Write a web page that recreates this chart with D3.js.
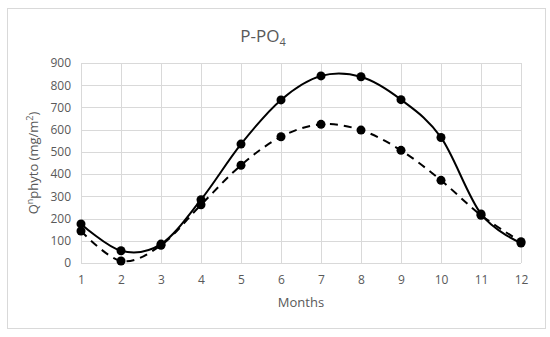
<!DOCTYPE html>
<html>
<head>
<meta charset="utf-8">
<script src="https://cdn.jsdelivr.net/npm/d3@7"></script>
<style>
  body { margin: 0; background: #fff; }
  text { font-family: "Open Sans", "Noto Sans", sans-serif; fill: #595959; }
</style>
</head>
<body>
<div id="chart"></div>
<script>
// data
var months = [1, 2, 3, 4, 5, 6, 7, 8, 9, 10, 11, 12];
var solidVals = [176, 55, 85, 285, 535, 734, 842, 838, 735, 565, 221, 90];
var dashedVals = [144, 9, 80, 262, 440, 568, 624, 598, 507, 372, 215, 96];
var yTicks = [0, 100, 200, 300, 400, 500, 600, 700, 800, 900];

var W = 550, H = 337;
var margin = {top: 63, right: 29, bottom: 74, left: 81},
    width = W - margin.left - margin.right,
    height = H - margin.top - margin.bottom;

var root = d3.select("#chart")
  .append("svg")
    .attr("width", W)
    .attr("height", H);

// outer chart border
root.append("rect")
  .attr("x", 7.5).attr("y", 8.5)
  .attr("width", 538).attr("height", 320)
  .attr("fill", "#fff")
  .attr("stroke", "#d9d9d9");

var svg = root.append("g")
  .attr("transform", "translate(" + margin.left + "," + margin.top + ")");

var x = d3.scaleLinear().domain([1, 12]).range([0, width]);
var y = d3.scaleLinear().domain([0, 900]).range([height, 0]);

// gridlines
svg.append("g")
  .selectAll("line.h")
  .data(yTicks)
  .enter().append("line")
    .attr("x1", 0).attr("x2", width)
    .attr("y1", function(d) { return Math.round(y(d)) + 0.5; })
    .attr("y2", function(d) { return Math.round(y(d)) + 0.5; })
    .attr("stroke", "#d9d9d9");

svg.append("g")
  .selectAll("line.v")
  .data(months)
  .enter().append("line")
    .attr("x1", function(d) { return Math.round(x(d)) + 0.5; })
    .attr("x2", function(d) { return Math.round(x(d)) + 0.5; })
    .attr("y1", 0).attr("y2", height)
    .attr("stroke", "#d9d9d9");

// axes (labels only)
var xAxis = svg.append("g")
  .attr("transform", "translate(0," + height + ")")
  .call(d3.axisBottom(x).tickValues(months).tickSize(0).tickPadding(12));
xAxis.select(".domain").remove();
xAxis.selectAll("text").style("font-size", "12px").attr("fill", "#595959");

var yAxis = svg.append("g")
  .call(d3.axisLeft(y).tickValues(yTicks).tickSize(0).tickPadding(10));
yAxis.select(".domain").remove();
yAxis.selectAll("text").style("font-size", "12px").attr("fill", "#595959");

// lines
var line = d3.line()
  .x(function(d, i) { return x(months[i]); })
  .y(function(d) { return y(d); })
  .curve(d3.curveCatmullRom.alpha(0));

svg.append("path")
  .datum(dashedVals)
  .attr("d", line)
  .attr("fill", "none")
  .attr("stroke", "#000")
  .attr("stroke-width", 2)
  .attr("stroke-dasharray", "8,6");

svg.append("path")
  .datum(solidVals)
  .attr("d", line)
  .attr("fill", "none")
  .attr("stroke", "#000")
  .attr("stroke-width", 2);

[dashedVals, solidVals].forEach(function(vals) {
  svg.append("g")
    .selectAll("circle")
    .data(vals)
    .enter().append("circle")
      .attr("cx", function(d, i) { return x(months[i]); })
      .attr("cy", function(d) { return y(d); })
      .attr("r", 4.5)
      .attr("fill", "#000");
});

// title
var title = root.append("text")
  .attr("x", 263)
  .attr("y", 42)
  .attr("text-anchor", "middle")
  .style("font-size", "17px");
title.append("tspan").text("P-PO");
title.append("tspan").attr("dy", 4).style("font-size", "11px").text("4");

// axis titles
root.append("text")
  .attr("x", margin.left + width / 2)
  .attr("y", 307)
  .attr("text-anchor", "middle")
  .style("font-size", "13px")
  .text("Months");

var yl = root.append("text")
  .attr("transform", "translate(38," + (margin.top + height / 2) + ") rotate(-90)")
  .attr("text-anchor", "middle")
  .style("font-size", "13px");
yl.append("tspan").text("Q");
yl.append("tspan").attr("dy", -5).style("font-size", "9px").text("n");
yl.append("tspan").attr("dy", 5).text("phyto (mg/m");
yl.append("tspan").attr("dy", -5).style("font-size", "9px").text("2");
yl.append("tspan").attr("dy", 5).text(")");
</script>
</body>
</html>
